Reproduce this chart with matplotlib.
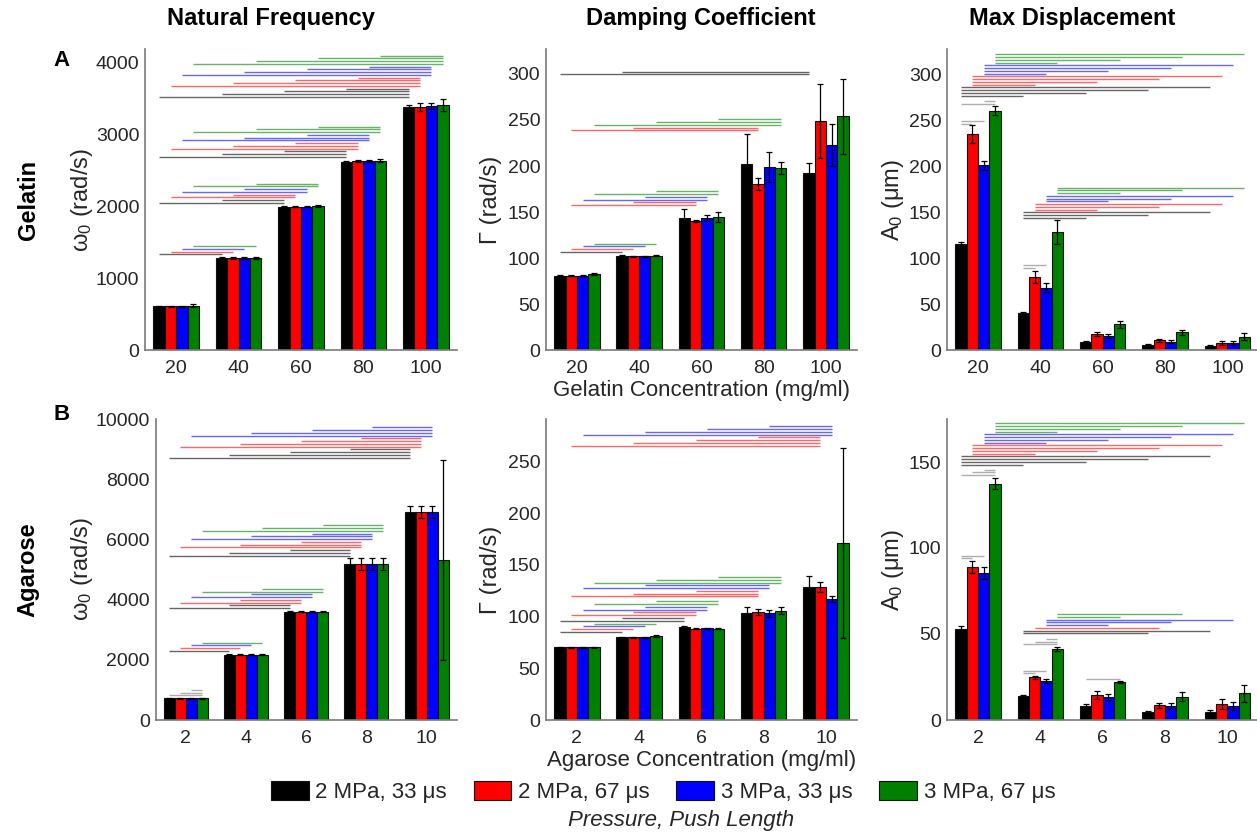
import matplotlib
matplotlib.use('Agg')
import matplotlib.pyplot as plt
from matplotlib.patches import Patch
import numpy as np

plt.rcParams['font.family'] = ['Liberation Sans', 'DejaVu Sans']
plt.rcParams['mathtext.fontset'] = 'custom'
plt.rcParams['mathtext.rm'] = 'Liberation Sans'
plt.rcParams['mathtext.it'] = 'Liberation Sans:italic'
plt.rcParams['mathtext.bf'] = 'Liberation Sans:bold'

series_names = ['2 MPa, 33 μs', '2 MPa, 67 μs', '3 MPa, 33 μs', '3 MPa, 67 μs']
series_colors = ['#000000', '#ff0000', '#0000ff', '#008000']
gel_conc = ['20', '40', '60', '80', '100']
aga_conc = ['2', '4', '6', '8', '10']

# bar heights, one row per concentration, one column per series
nf_gel = [[615, 615, 615, 625], [1285, 1285, 1285, 1285], [2000, 2000, 2000, 2010],
          [2625, 2630, 2635, 2640], [3390, 3385, 3400, 3410]]
nf_gel_err = [[10, 10, 10, 15], [10, 10, 10, 12], [12, 12, 12, 15],
              [15, 15, 15, 15], [15, 53, 46, 81]]
damp_gel = [[81, 81, 81, 83], [103, 102, 102, 103], [144, 140.5, 144, 145],
            [202, 180.5, 199, 198], [192, 248.5, 223, 254]]
damp_gel_err = [[0.5, 0.5, 0.5, 1.5], [0.5, 0.5, 0.5, 0.8], [10, 1.5, 3.3, 5.2],
                [33, 6.7, 16.6, 6.9], [11, 40, 22.4, 41]]
md_gel = [[116, 235.5, 201.5, 261], [40.5, 80, 68.5, 128.5], [9.3, 18, 15.8, 28.5],
          [6.3, 11, 9.6, 19.8], [4.9, 8.5, 7.8, 15]]
md_gel_err = [[2, 9.4, 5, 5], [1.5, 6.9, 4.5, 13], [1, 2, 2.5, 4],
              [1, 2, 1.5, 3], [1, 2, 2, 3.5]]

nf_aga = [[720, 720, 720, 720], [2170, 2170, 2170, 2170], [3600, 3600, 3600, 3600],
          [5190, 5190, 5190, 5190], [6900, 6900, 6900, 5320]]
nf_aga_err = [[20, 20, 20, 20], [25, 25, 25, 25], [25, 25, 25, 25],
              [193, 193, 193, 193], [200, 200, 200, 3315]]
damp_aga = [[70.4, 70.2, 70.2, 70.5], [80, 80, 80, 81], [89.7, 88, 88.7, 88],
            [103.8, 104.2, 103.2, 105.8], [129, 128.5, 117, 171]]
damp_aga_err = [[0.4, 0.4, 0.4, 0.5], [0.5, 0.5, 0.5, 1], [1, 0.5, 0.5, 0.5],
                [5, 3, 3.5, 3], [10.5, 4.8, 3.2, 92]]
md_aga = [[53, 89, 85.5, 137.5], [14, 24.8, 22.8, 41.4], [8, 14.5, 13.4, 21.9],
          [4.4, 8.5, 8.1, 13.5], [4.6, 9.3, 8.1, 15.5]]
md_aga_err = [[1.5, 3.4, 3.5, 3], [0.5, 1, 1.2, 1], [1.5, 2.5, 2, 0.5],
              [1, 1.5, 1.5, 2.5], [1.5, 3, 2.5, 5]]

# significance lines: (height of lowest line, [(group a, series a, group b, series b), ...])
sig_nf_gel = [
    (1336, [(0, 0, 1, 0), (0, 1, 1, 1), (0, 2, 1, 2), (0, 3, 1, 3)]),
    (2053, [(0, 0, 2, 0), (1, 0, 2, 0), (0, 1, 2, 1), (1, 1, 2, 1),
            (0, 2, 2, 2), (1, 2, 2, 2), (0, 3, 2, 3), (1, 3, 2, 3)]),
    (2692, [(0, 0, 3, 0), (1, 0, 3, 0), (2, 0, 3, 0), (0, 1, 3, 1), (1, 1, 3, 1), (2, 1, 3, 1),
            (0, 2, 3, 2), (1, 2, 3, 2), (2, 2, 3, 2), (0, 3, 3, 3), (1, 3, 3, 3), (2, 3, 3, 3)]),
    (3525, [(0, 0, 4, 0), (1, 0, 4, 0), (2, 0, 4, 0), (3, 0, 4, 0),
            (0, 1, 4, 1), (1, 1, 4, 1), (2, 1, 4, 1), (3, 1, 4, 1),
            (0, 2, 4, 2), (1, 2, 4, 2), (2, 2, 4, 2), (3, 2, 4, 2),
            (0, 3, 4, 3), (1, 3, 4, 3), (2, 3, 4, 3), (3, 3, 4, 3)]),
]
sig_damp_gel = [
    (107, [(0, 0, 1, 0), (0, 1, 1, 1), (0, 2, 1, 2), (0, 3, 1, 3)]),
    (157.6, [(0, 1, 2, 1), (1, 1, 2, 1), (0, 2, 2, 2), (1, 2, 2, 2), (0, 3, 2, 3), (1, 3, 2, 3)]),
    (238.8, [(0, 1, 3, 1), (1, 1, 3, 1), (0, 3, 3, 3), (1, 3, 3, 3), (2, 3, 3, 3)]),
    (299.6, [(0, 0, 4, 0), (1, 0, 4, 0)]),
]
sig_md_gel = [
    (246.9, [(0, 0, 0, 1), (0, 0, 0, 2)]),
    (268.7, [(0, 0, 0, 3), (0, 2, 0, 3)]),
    (277.4, [(0, 0, 1, 0), (0, 0, 2, 0), (0, 0, 3, 0), (0, 0, 4, 0),
             (0, 1, 1, 1), (0, 1, 2, 1), (0, 1, 3, 1), (0, 1, 4, 1),
             (0, 2, 1, 2), (0, 2, 2, 2), (0, 2, 3, 2), (0, 2, 4, 2),
             (0, 3, 1, 3), (0, 3, 2, 3), (0, 3, 3, 3), (0, 3, 4, 3)]),
    (89.5, [(1, 0, 1, 1), (1, 0, 1, 2)]),
    (144.3, [(1, 0, 2, 0), (1, 0, 3, 0), (1, 0, 4, 0), (1, 1, 2, 1), (1, 1, 3, 1), (1, 1, 4, 1),
             (1, 2, 2, 2), (1, 2, 3, 2), (1, 2, 4, 2), (1, 3, 2, 3), (1, 3, 3, 3), (1, 3, 4, 3)]),
]
sig_nf_aga = [
    (818, [(0, 0, 0, 3), (0, 1, 0, 3), (0, 2, 0, 3)]),
    (2295, [(0, 0, 1, 0), (0, 1, 1, 1), (0, 2, 1, 2), (0, 3, 1, 3)]),
    (3720, [(0, 0, 2, 0), (1, 0, 2, 0), (0, 1, 2, 1), (1, 1, 2, 1),
            (0, 2, 2, 2), (1, 2, 2, 2), (0, 3, 2, 3), (1, 3, 2, 3)]),
    (5464, [(0, 0, 3, 0), (1, 0, 3, 0), (2, 0, 3, 0), (0, 1, 3, 1), (1, 1, 3, 1), (2, 1, 3, 1),
            (0, 2, 3, 2), (1, 2, 3, 2), (2, 2, 3, 2), (0, 3, 3, 3), (1, 3, 3, 3), (2, 3, 3, 3)]),
    (8720, [(0, 0, 4, 0), (1, 0, 4, 0), (2, 0, 4, 0), (3, 0, 4, 0),
            (0, 1, 4, 1), (1, 1, 4, 1), (2, 1, 4, 1), (3, 1, 4, 1),
            (0, 2, 4, 2), (1, 2, 4, 2), (2, 2, 4, 2), (3, 2, 4, 2)]),
]
sig_damp_aga = [
    (85.2, [(0, 0, 1, 0), (0, 1, 1, 1), (0, 2, 1, 2), (0, 3, 1, 3)]),
    (96.1, [(0, 0, 2, 0), (1, 0, 2, 0), (0, 1, 2, 1), (1, 1, 2, 1),
            (0, 2, 2, 2), (1, 2, 2, 2), (0, 3, 2, 3), (1, 3, 2, 3)]),
    (119.4, [(0, 1, 3, 1), (1, 1, 3, 1), (2, 1, 3, 1), (0, 2, 3, 2), (1, 2, 3, 2),
             (0, 3, 3, 3), (1, 3, 3, 3), (2, 3, 3, 3)]),
    (265.2, [(0, 1, 4, 1), (1, 1, 4, 1), (2, 1, 4, 1), (3, 1, 4, 1),
             (0, 2, 4, 2), (1, 2, 4, 2), (2, 2, 4, 2), (3, 2, 4, 2)]),
]
sig_md_aga = [
    (94, [(0, 0, 0, 1), (0, 0, 0, 2)]),
    (142.3, [(0, 0, 0, 3), (0, 1, 0, 3), (0, 2, 0, 3)]),
    (148.5, [(0, 0, 1, 0), (0, 0, 2, 0), (0, 0, 3, 0), (0, 0, 4, 0),
             (0, 1, 1, 1), (0, 1, 2, 1), (0, 1, 3, 1), (0, 1, 4, 1),
             (0, 2, 1, 2), (0, 2, 2, 2), (0, 2, 3, 2), (0, 2, 4, 2),
             (0, 3, 1, 3), (0, 3, 2, 3), (0, 3, 3, 3), (0, 3, 4, 3)]),
    (27.1, [(1, 0, 1, 1), (1, 0, 1, 2)]),
    (44, [(1, 0, 1, 3), (1, 1, 1, 3), (1, 2, 1, 3)]),
    (50.3, [(1, 0, 3, 0), (1, 0, 4, 0), (1, 1, 3, 1), (1, 2, 2, 2), (1, 2, 3, 2), (1, 2, 4, 2),
            (1, 3, 2, 3), (1, 3, 3, 3)]),
    (23.8, [(2, 0, 2, 3)]),
]

W, H = 1257, 838
fig = plt.figure(figsize=(W / 100, H / 100), dpi=100)
BAR_W = 0.182
TEXT_GREY = '#262626'


def add_axes_px(left, top, right, bottom):
    return fig.add_axes([left / W, 1 - bottom / H, (right - left) / W, (bottom - top) / H])


def draw_panel(ax, means, errs, sig, labels, ytop, yticks, ylabel, label_x):
    means = np.array(means, dtype=float)
    errs = np.array(errs, dtype=float)
    x = np.arange(1, len(labels) + 1)
    for s in range(4):
        xs = x + (s - 1.5) * BAR_W
        ax.bar(xs, means[:, s], BAR_W, color=series_colors[s], edgecolor='#111111',
               linewidth=0.8, zorder=2)
        ax.errorbar(xs, means[:, s], yerr=errs[:, s], fmt='none', ecolor='black',
                    elinewidth=0.9, capsize=2, capthick=0.9, zorder=3)
    # a little under 3 pixels between stacked significance lines
    step = ytop * 2.75 / (ax.get_position().height * H)
    for base, lines in sig:
        for k, (ga, sa, gb, sb) in enumerate(lines):
            xa = ga + 1 + (sa - 1.5) * BAR_W
            xb = gb + 1 + (sb - 1.5) * BAR_W
            y = base + k * step
            if ga == gb:
                ax.plot([xa, xb], [y, y], color='#9a9a9a', lw=1.0, alpha=0.8,
                        solid_capstyle='butt', zorder=1)
            else:
                ax.plot([xa, xb], [y, y], color=series_colors[sa], lw=1.0, alpha=0.6,
                        solid_capstyle='butt', zorder=1)
    ax.set_xlim(0.5, len(labels) + 0.5)
    ax.set_ylim(0, ytop)
    ax.set_xticks(x)
    ax.set_xticklabels(labels)
    ax.set_yticks(yticks)
    ax.tick_params(length=0, labelsize=14, colors=TEXT_GREY)
    ax.tick_params(axis='x', pad=7)
    ax.tick_params(axis='y', pad=4)
    for side in ['top', 'right']:
        ax.spines[side].set_visible(False)
    for side in ['left', 'bottom']:
        ax.spines[side].set_color('#7a7a7a')
        ax.spines[side].set_linewidth(1.2)
    ax.set_ylabel(ylabel, fontsize=17, color=TEXT_GREY, va='center')
    ax.yaxis.set_label_coords(label_x, 0.5)


ax1 = add_axes_px(145, 49, 457, 350.5)
ax2 = add_axes_px(545.7, 49, 857.2, 350.5)
ax3 = add_axes_px(947, 49, 1258.5, 350.5)
ax4 = add_axes_px(155.5, 419, 456.8, 720)
ax5 = add_axes_px(545.7, 419, 857.2, 720)
ax6 = add_axes_px(947, 419, 1258.5, 720)

draw_panel(ax1, nf_gel, nf_gel_err, sig_nf_gel, gel_conc, 4190, range(0, 4001, 1000),
           'ω$_0$ (rad/s)', (82 - 145) / 312)
draw_panel(ax2, damp_gel, damp_gel_err, sig_damp_gel, gel_conc, 327, range(0, 301, 50),
           'Γ (rad/s)', (491 - 545.7) / 311.5)
draw_panel(ax3, md_gel, md_gel_err, sig_md_gel, gel_conc, 328, range(0, 301, 50),
           'A$_0$ (μm)', (893 - 947) / 311.5)
draw_panel(ax4, nf_aga, nf_aga_err, sig_nf_aga, aga_conc, 10000, range(0, 10001, 2000),
           'ω$_0$ (rad/s)', (82 - 155.5) / 301.3)
draw_panel(ax5, damp_aga, damp_aga_err, sig_damp_aga, aga_conc, 291, range(0, 251, 50),
           'Γ (rad/s)', (491 - 545.7) / 311.5)
draw_panel(ax6, md_aga, md_aga_err, sig_md_aga, aga_conc, 175, range(0, 151, 50),
           'A$_0$ (μm)', (893 - 947) / 311.5)

ax2.set_xlabel('Gelatin Concentration (mg/ml)', fontsize=16, color=TEXT_GREY, labelpad=2)
ax5.set_xlabel('Agarose Concentration (mg/ml)', fontsize=16, color=TEXT_GREY, labelpad=2)


def ftext(xp, yp, s, **kw):
    fig.text(xp / W, 1 - yp / H, s, ha='center', va='center', **kw)


ftext(271, 18, 'Natural Frequency', fontsize=17, fontweight='bold')
ftext(701, 18, 'Damping Coefficient', fontsize=17, fontweight='bold')
ftext(1072, 18, 'Max Displacement', fontsize=17, fontweight='bold')
ftext(62, 60, 'A', fontsize=16, fontweight='bold')
ftext(62, 414, 'B', fontsize=16, fontweight='bold')
ftext(28, 200, 'Gelatin', fontsize=17, fontweight='bold', rotation=90)
ftext(28, 570, 'Agarose', fontsize=17, fontweight='bold', rotation=90)

handles = [Patch(facecolor=c, edgecolor='#111111', linewidth=0.8) for c in series_colors]
fig.legend(handles, series_names, loc='center', bbox_to_anchor=(663 / W, 1 - 792 / H),
           ncol=4, frameon=False, fontsize=16, handlelength=1.7, handleheight=0.9,
           handletextpad=0.3, columnspacing=1.2, labelcolor=TEXT_GREY)
ftext(681, 820, 'Pressure, Push Length', fontsize=16, fontstyle='italic', color=TEXT_GREY)

fig.savefig('out.png', dpi=100)
